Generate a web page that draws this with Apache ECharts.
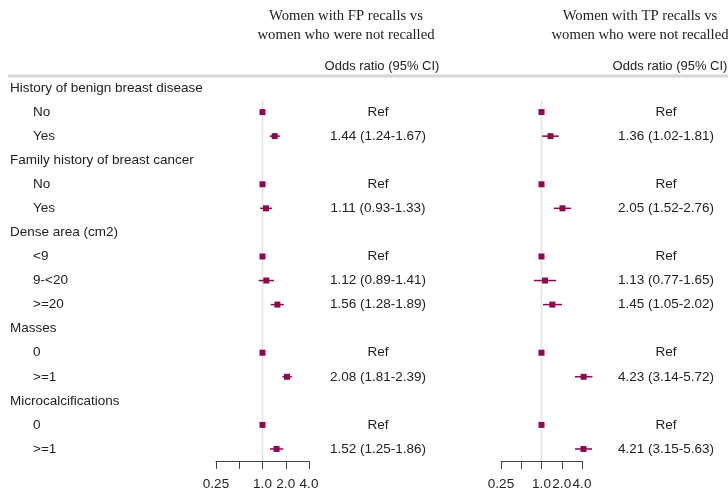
<!DOCTYPE html>
<html><head><meta charset="utf-8">
<script src="https://cdn.jsdelivr.net/npm/echarts@6/dist/echarts.min.js"></script>
<style>html,body{margin:0;padding:0;background:#fff}#c{width:728px;height:494px}</style>
</head><body><div id="c"></div>
<script>
// Row labels (top to bottom); heading rows have no estimate
const rowLabels = ['History of benign breast disease','No','Yes','Family history of breast cancer','No','Yes','Dense area (cm2)','<9','9-<20','>=20','Masses','0','>=1','Microcalcifications','0','>=1'];
const rowIsHeading = [1,0,0,1,0,0,1,0,0,0,1,0,0,1,0,0];
// Women with FP recalls vs not recalled
const fpOR = [null,1,1.44,null,1,1.11,null,1,1.12,1.56,null,1,2.08,null,1,1.52];
const fpLo = [null,1,1.24,null,1,0.93,null,1,0.89,1.28,null,1,1.81,null,1,1.25];
const fpHi = [null,1,1.67,null,1,1.33,null,1,1.41,1.89,null,1,2.39,null,1,1.86];
// Women with TP recalls vs not recalled
const tpOR = [null,1,1.36,null,1,2.05,null,1,1.13,1.45,null,1,4.23,null,1,4.21];
const tpLo = [null,1,1.02,null,1,1.52,null,1,0.77,1.05,null,1,3.14,null,1,3.15];
const tpHi = [null,1,1.81,null,1,2.76,null,1,1.65,2.02,null,1,5.72,null,1,5.63];
const isRef = [0,1,0,0,1,0,0,1,0,0,0,1,0,0,1,0];
const tickLabels = {0.25:'0.25', 0.5:'', 1:'1.0', 2:'2.0', 4:'4.0'};
const headerFP = 'Women with FP recalls vs\nwomen who were not recalled';
const headerTP = 'Women with TP recalls vs\nwomen who were not recalled';
const colTitle = 'Odds ratio (95% CI)';

const cats = rowLabels.map((_, i) => String(i));
const fmt = v => v.toFixed(2);
function estText(or, lo, hi, i) {
  if (or == null) return '';
  if (isRef[i]) return 'Ref';
  return fmt(or) + ' (' + fmt(lo) + '-' + fmt(hi) + ')';
}
const COL = '#8B0A50';
const TXT = '#222';
const FONT = '"Liberation Sans", Arial, sans-serif';
const FS = 13.5;

function forestData(or, lo, hi) {
  const d = [];
  or.forEach((v, i) => { if (v != null) d.push([v, String(i), lo[i], hi[i]]); });
  return d;
}
function renderForest(params, api) {
  const y = api.value(1);
  const c = api.coord([api.value(0), y]);
  const a = api.coord([api.value(2), y]);
  const b = api.coord([api.value(3), y]);
  const ch = [];
  if (b[0] - a[0] > 0.5) {
    ch.push({type:'line', shape:{x1:a[0], y1:c[1], x2:b[0], y2:c[1]}, style:{stroke:COL, lineWidth:1.5}});
  }
  ch.push({type:'rect', shape:{x:c[0]-3, y:c[1]-3, width:6, height:6}, style:{fill:COL}});
  return {type:'group', children: ch};
}
function renderRefLine(params, api) {
  const top = api.coord([1, '1']);
  const bw = api.size([0, 1])[1];
  const bot = api.coord([1, '15']);
  return {type:'line', shape:{x1:top[0], y1:top[1]-bw/2, x2:bot[0], y2:bot[1]+bw/2}, style:{stroke:'#e3e3e3', lineWidth:1.5}, z2:-1};
}

const xAxisBase = {
  type:'log', logBase:2, min:0.25, max:4,
  axisLine:{show:true, lineStyle:{color:'#444', width:1}},
  axisTick:{show:true, length:8, lineStyle:{color:'#444'}},
  axisLabel:{color:TXT, fontSize:FS, fontFamily:FONT, margin:16, formatter: v => tickLabels[v] !== undefined ? tickLabels[v] : ''},
  splitLine:{show:false}, minorTick:{show:false}
};
const gridTop = 76, gridH = 385;
const serif = '"Liberation Serif", "Times New Roman", serif';

const option = {
  animation:false,
  backgroundColor:'#fff',
  title:[
    {text:headerFP, left:341, top:2, textAlign:'center', textStyle:{fontFamily:serif, fontWeight:'normal', fontSize:14.7, color:TXT, lineHeight:19}},
    {text:headerTP, left:635, top:2, textAlign:'center', textStyle:{fontFamily:serif, fontWeight:'normal', fontSize:14.7, color:TXT, lineHeight:19}},
    {text:colTitle, left:377, top:55, textAlign:'center', textStyle:{fontFamily:FONT, fontWeight:'normal', fontSize:13, color:TXT}},
    {text:colTitle, left:665, top:55, textAlign:'center', textStyle:{fontFamily:FONT, fontWeight:'normal', fontSize:13, color:TXT}}
  ],
  graphic:[
    {type:'line', shape:{x1:8, y1:76, x2:728, y2:76}, style:{stroke:'#d6d6d6', lineWidth:3}}
  ],
  grid:[
    {left:216, width:93, top:gridTop, height:gridH},
    {left:501, width:81, top:gridTop, height:gridH}
  ],
  xAxis:[
    Object.assign({gridIndex:0}, xAxisBase),
    Object.assign({gridIndex:1}, xAxisBase)
  ],
  yAxis:[
    {gridIndex:0, type:'category', data:cats, inverse:true, position:'left',
     axisLine:{show:false}, axisTick:{show:false}, splitLine:{show:false},
     axisLabel:{align:'left', margin:206, color:TXT, fontSize:FS, fontFamily:FONT,
       formatter:(v) => { const i = +v; return rowIsHeading[i] ? rowLabels[i] : '{s|' + rowLabels[i] + '}'; },
       rich:{s:{padding:[0,0,0,23], color:TXT, fontSize:FS, fontFamily:FONT}}}},
    {gridIndex:0, type:'category', data:cats, inverse:true, position:'right',
     axisLine:{show:false}, axisTick:{show:false}, splitLine:{show:false},
     axisLabel:{align:'center', margin:69, color:TXT, fontSize:FS, fontFamily:FONT,
       formatter:(v) => { const i = +v; return estText(fpOR[i], fpLo[i], fpHi[i], i); }}},
    {gridIndex:1, type:'category', data:cats, inverse:true, position:'left', show:false},
    {gridIndex:1, type:'category', data:cats, inverse:true, position:'right',
     axisLine:{show:false}, axisTick:{show:false}, splitLine:{show:false},
     axisLabel:{align:'center', margin:84, color:TXT, fontSize:FS, fontFamily:FONT,
       formatter:(v) => { const i = +v; return estText(tpOR[i], tpLo[i], tpHi[i], i); }}}
  ],
  series:[
    {type:'custom', xAxisIndex:0, yAxisIndex:0, renderItem:renderRefLine, data:[[1,'1']], z:1, silent:true},
    {type:'custom', xAxisIndex:1, yAxisIndex:2, renderItem:renderRefLine, data:[[1,'1']], z:1, silent:true},
    {type:'custom', xAxisIndex:0, yAxisIndex:0, renderItem:renderForest, data:forestData(fpOR, fpLo, fpHi), encode:{x:0, y:1}, z:3, clip:false},
    {type:'custom', xAxisIndex:1, yAxisIndex:2, renderItem:renderForest, data:forestData(tpOR, tpLo, tpHi), encode:{x:0, y:1}, z:3, clip:false}
  ]
};
const chart = echarts.init(document.getElementById('c'), null, {renderer:'canvas'});
chart.setOption(option);
</script></body></html>
